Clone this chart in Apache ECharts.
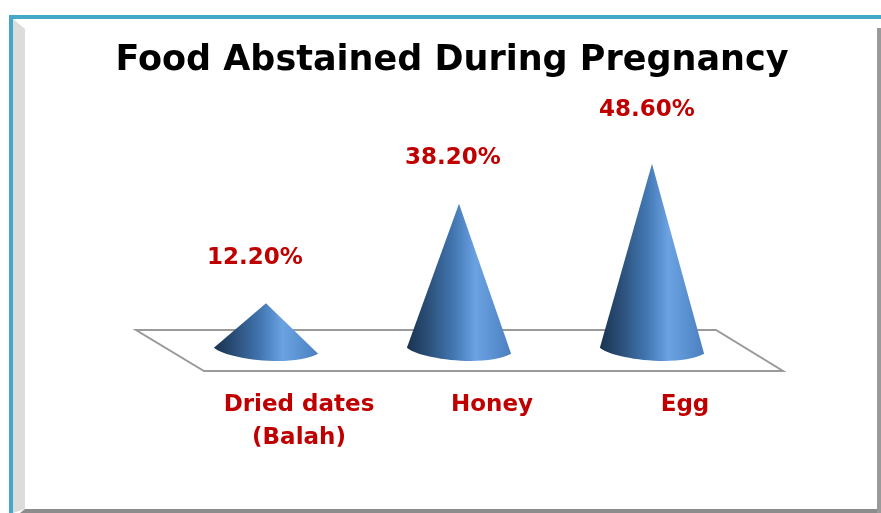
<!DOCTYPE html>
<html>
<head>
<meta charset="utf-8">
<title>Food Abstained During Pregnancy</title>
<script src="https://cdn.jsdelivr.net/npm/echarts@6/dist/echarts.min.js"></script>
<style>
  html, body { margin: 0; padding: 0; background: #fff; }
  #chart { width: 881px; height: 513px; }
</style>
</head>
<body>
<div id="chart"></div>
<script>
const categories = ['Dried dates\n(Balah)', 'Honey', 'Egg'];
const values = [12.2, 38.2, 48.6];
// label placement relative to the cone tip, the source chart has them hand moved
const labelShiftX = [-11, -6, -5];
const labelShiftY = [-45, -46, -54];

const labelFont = '700 23px "DejaVu Sans", sans-serif';
const coneGradient = [
  { offset: 0, color: '#1a3250' },
  { offset: 0.2, color: '#2b4f78' },
  { offset: 0.45, color: '#4277b2' },
  { offset: 0.66, color: '#6ba2e2' },
  { offset: 1, color: '#4a80c0' }
];

const renderCone = (params, api) => {
  const i = params.dataIndex;
  const tip = api.coord([i, api.value(1)]);
  const base = api.coord([i, 0]);
  const half = api.size([1, 0])[0] * 0.27;
  const l = base[0] - half;
  const r = base[0] + half;
  const y = base[1];
  return {
    type: 'group',
    children: [
      {
        type: 'path',
        shape: {
          pathData: `M${tip[0]} ${tip[1]} L${l} ${y - 3} C${l + 12} ${y + 8} ${r - 26} ${y + 17} ${r} ${y + 3} Z`,
          layout: 'cover',
          x: l,
          y: tip[1],
          width: r - l,
          height: y + 11 - tip[1]
        },
        style: { fill: new echarts.graphic.LinearGradient(0, 0, 1, 0, coneGradient) }
      },
      {
        type: 'text',
        style: {
          text: values[i].toFixed(2) + '%',
          x: tip[0] + labelShiftX[i],
          y: tip[1] + labelShiftY[i],
          align: 'center',
          verticalAlign: 'middle',
          font: labelFont,
          fill: '#c00000'
        }
      }
    ]
  };
};

const chart = echarts.init(document.getElementById('chart'), null, { renderer: 'canvas' });
chart.setOption({
  animation: false,
  backgroundColor: '#fff',
  title: {
    text: 'Food Abstained During Pregnancy',
    left: 447,
    top: 38,
    textAlign: 'center',
    textStyle: {
      fontFamily: '"DejaVu Sans", sans-serif',
      fontSize: 35,
      fontWeight: 700,
      color: '#000'
    }
  },
  grid: { left: 169.5, top: 158.5, width: 579, height: 191.5 },
  xAxis: {
    type: 'category',
    data: categories,
    axisLine: { show: false },
    axisTick: { show: false },
    axisLabel: {
      margin: 39,
      lineHeight: 33,
      interval: 0,
      padding: [0, 0, 0, 66],
      color: '#c00000',
      fontFamily: '"DejaVu Sans", sans-serif',
      fontSize: 23,
      fontWeight: 700
    }
  },
  yAxis: { type: 'value', min: 0, max: 50, show: false },
  graphic: [
    // frame
    { type: 'polygon', shape: { points: [[13, 19], [25, 29], [25, 509], [13, 513]] }, style: { fill: '#dcdcdc' } },
    { type: 'polygon', shape: { points: [[20, 513], [25, 509], [877, 509], [877, 513]] }, style: { fill: '#8c8c8c' } },
    { type: 'rect', shape: { x: 877, y: 28, width: 4, height: 485 }, style: { fill: '#9a9a9a' } },
    { type: 'rect', shape: { x: 9, y: 15, width: 872, height: 4 }, style: { fill: '#45a8c4' } },
    { type: 'rect', shape: { x: 9, y: 15, width: 4, height: 498 }, style: { fill: '#45a8c4' } },
    // floor
    {
      type: 'polygon',
      shape: { points: [[136, 330], [716, 330], [783, 371], [204, 371]] },
      style: { fill: '#fff', stroke: '#9a9a9a', lineWidth: 2 }
    }
  ],
  series: [
    {
      type: 'custom',
      coordinateSystem: 'cartesian2d',
      renderItem: renderCone,
      encode: { x: 0, y: 1 },
      data: values.map((v, i) => [i, v]),
      z: 5
    }
  ]
});
</script>
</body>
</html>
